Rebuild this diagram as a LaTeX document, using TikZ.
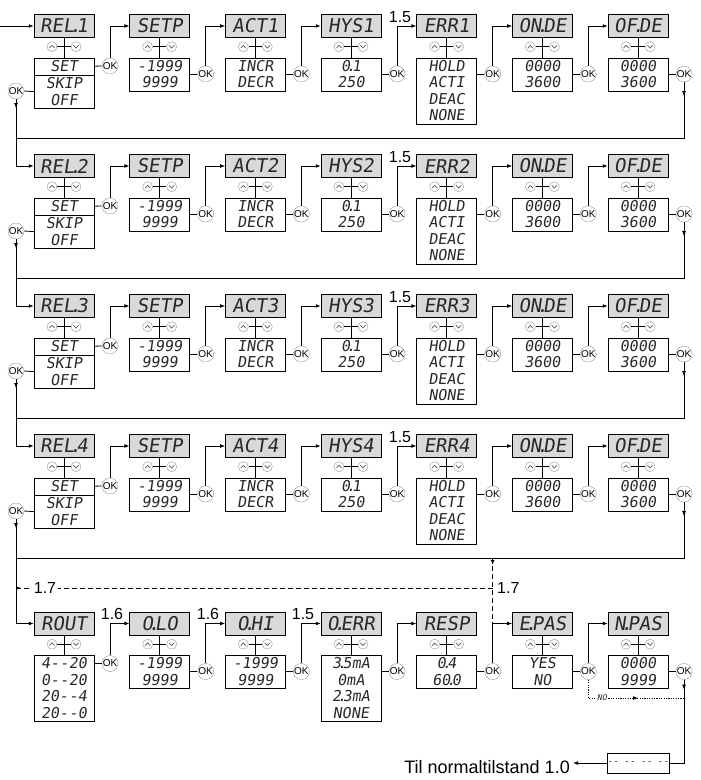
\documentclass[tikz,border=0pt]{standalone}
\usepackage{fontspec}
\setmainfont{Liberation Sans}
\newfontfamily\segfont[FakeSlant=0.15]{DejaVu Sans Mono}
\usetikzlibrary{arrows.meta,decorations.markings,calc}

\definecolor{lcd}{RGB}{217,217,217}
\definecolor{keyline}{RGB}{150,150,150}
\definecolor{segtext}{RGB}{40,40,40}

% decimal point of the display, sits between two digits
\newcommand\dt{\kern-0.25em.\kern-0.25em}
% two minus segments
\newcommand\dsh{-\kern0.5pt-}

\tikzset{
  disp/.style={draw, fill=lcd, minimum width=60pt, minimum height=23pt, inner sep=0pt,
    text=segtext, font=\segfont\fontsize{19}{19}\selectfont},
  valbox/.style={draw, fill=white, minimum width=60pt, inner sep=0pt, anchor=north,
    align=center, text=segtext, font=\segfont\fontsize{15}{16.5}\selectfont},
  key/.style={circle, draw=keyline, fill=white, minimum size=10pt, inner sep=0pt},
  chev/.style={draw=keyline!60!black, line width=0.7pt},
  okbtn/.style={circle, draw=keyline, fill=white, minimum size=15pt, inner sep=0pt,
    font=\fontsize{10}{10}\selectfont},
  seclbl/.style={inner sep=0pt, anchor=base, font=\fontsize{16}{16}\selectfont},
  wire/.style={line width=0.8pt},
  flow/.style={wire, -{Latex[length=5pt,width=3.8pt]}},
  tipat/.style={postaction={decorate}, decoration={markings,
    mark=at position #1 with {\arrow{Latex[length=5pt,width=3.8pt]}}}},
}

\begin{document}
\begin{tikzpicture}[x=1pt, y=-1pt]
  \useasboundingbox (0,0) rectangle (701,780);

  % relay rows 1-4
  \foreach \row in {1,...,4} {
    \pgfmathsetmacro\rowy{14.5+140*(\row-1)}
    \node[disp] (d\row-1) at (64,\rowy+11.5) {REL\dt\row};
    \node[valbox, minimum height=17pt] (v\row-1) at (64,\rowy+43) {SET};
    \node[valbox, minimum height=33pt] (w\row-1) at (v\row-1.south) {SKIP\\OFF};
    \node[okbtn] (k\row-1) at (110,\rowy+51.5) {OK};
    \node[okbtn] (l\row) at (16,\rowy+76.5) {OK};
    \draw[wire] (d\row-1.south) -- (v\row-1.north);
    \draw[wire] (v\row-1.east) -- (k\row-1.west);
    \draw[wire] (w\row-1.west) -- (l\row.east);
    \foreach \col/\name/\vals/\n in {2/SETP/{-1999\\9999}/2, 3/{ACT\row}/{INCR\\DECR}/2,
        4/{HYS\row}/{0\dt 1\\250}/2, 5/{ERR\row}/{HOLD\\ACTI\\DEAC\\NONE}/4,
        6/{ON\dt DE}/{0000\\3600}/2, 7/{OF\dt DE}/{0000\\3600}/2} {
      \pgfmathsetmacro\cx{64+95.67*(\col-1)}
      \pgfmathtruncatemacro\prev{\col-1}
      \node[disp] (d\row-\col) at (\cx,\rowy+11.5) {\name};
      \node[valbox, minimum height=\n*16.5pt] (v\row-\col) at (\cx,\rowy+43) {\vals};
      \node[okbtn] (k\row-\col) at (\cx+46,\rowy+59.5) {OK};
      \draw[wire] (d\row-\col.south) -- (v\row-\col.north);
      \draw[wire] (k\row-\col.west) -- (k\row-\col.west -| v\row-\col.east);
      \draw[flow] (k\row-\prev.north) |- (d\row-\col.west);
    }
    \node[seclbl] (s\row) at (400,\rowy+7.5) {1.5};
    \coordinate (b\row) at (16,\rowy+123.5);
    \draw[wire, tipat=14pt] (k\row-7.south) |- (b\row);
  }

  % analog output row
  \def\rowy{612}
  \foreach \col/\name/\vals/\n in {1/ROUT/{4\dsh 20\\0\dsh 20\\20\dsh 4\\20\dsh 0}/4,
      2/{O\dt LO}/{-1999\\9999}/2, 3/{O\dt HI}/{-1999\\9999}/2,
      4/{O\dt ERR}/{3\dt 5mA\\0mA\\2\dt 3mA\\NONE}/4, 5/RESP/{0\dt 4\\60\dt 0}/2,
      6/{E\dt PAS}/{YES\\NO}/2, 7/{N\dt PAS}/{0000\\9999}/2} {
    \pgfmathsetmacro\cx{64+95.67*(\col-1)}
    \pgfmathsetmacro\oky{\col==1 ? \rowy+51.5 : \rowy+59.5}
    \node[disp] (d5-\col) at (\cx,\rowy+11.5) {\name};
    \node[valbox, minimum height=\n*16.5pt] (v5-\col) at (\cx,\rowy+43) {\vals};
    \node[okbtn] (k5-\col) at (\cx+46,\oky) {OK};
    \draw[wire] (d5-\col.south) -- (v5-\col.north);
    \draw[wire] (k5-\col.west) -- (k5-\col.west -| v5-\col.east);
  }
  \foreach \col in {2,...,7} {
    \pgfmathtruncatemacro\prev{\col-1}
    \draw[flow] (k5-\prev.north) |- (d5-\col.west);
  }
  \node[seclbl] (s5a) at (112,619.5) {1.6};
  \node[seclbl] (s5b) at (208,619.5) {1.6};
  \node[seclbl] (s5c) at (303,619.5) {1.5};

  % arrow keys under every display
  \foreach \row in {1,...,5} \foreach \col in {1,...,7} {
    \node[key] (u\row-\col) at ($(d\row-\col.south)+(-12,9)$) {};
    \node[key] (n\row-\col) at ($(d\row-\col.south)+(12,9)$) {};
    \draw[wire] (u\row-\col) -- (n\row-\col);
    \draw[chev] ($(u\row-\col)+(-2.6,1.4)$) -- ($(u\row-\col)+(0,-1.3)$) -- ($(u\row-\col)+(2.6,1.4)$);
    \draw[chev] ($(n\row-\col)+(-2.6,-1.4)$) -- ($(n\row-\col)+(0,1.3)$) -- ($(n\row-\col)+(2.6,-1.4)$);
  }

  % entry and row to row
  \coordinate (entry) at (0,26);
  \draw[flow] (entry) -- (d1-1.west);
  \foreach \row/\next in {1/2,2/3,3/4,4/5}
    \draw[flow, tipat=9pt] (l\row.south) |- (d\next-1.west);

  % jump to 1.7
  \coordinate (br) at (k5-5.north |- b4);
  \coordinate (bc) at (k5-5.north |- d5-6.west);
  \coordinate (lk) at (16,588);
  \coordinate (rk) at (br |- lk);
  \draw[wire, dash pattern=on 5pt off 3pt, tipat=7pt] (br) -- (bc);
  \draw[wire, dash pattern=on 5pt off 3pt, tipat=5pt] (lk) -- (rk);
  \node[seclbl, anchor=center, fill=white, inner sep=1.5pt] (j1) at (45,588) {1.7};
  \node[seclbl, anchor=west] (j2) at (497,588) {1.7};

  % exit
  \path (k5-7) ++(0,26.5) coordinate (nj);
  \draw[wire, dash pattern=on 1.2pt off 1.2pt, tipat=68pt] (k5-6.south) |- (nj);
  \node[fill=white, inner sep=1pt, text=segtext, font=\segfont\fontsize{8}{8}\selectfont] (no) at (602,698) {NO};
  \node[disp, fill=white, minimum height=20pt, font=\segfont\fontsize{9}{9}\selectfont] (blank) at (638,763) {\dsh\ \dsh\ \dsh\ \dsh};
  \draw[wire, tipat=10pt] (k5-7.south) |- (blank.east);
  \node[anchor=base east, inner xsep=3pt, inner ysep=0pt, font=\fontsize{18}{18}\selectfont] (til) at (573,773) {Til normaltilstand 1.0};
  \draw[flow] (blank.west) -- (til.east |- blank.west);
\end{tikzpicture}
\end{document}
